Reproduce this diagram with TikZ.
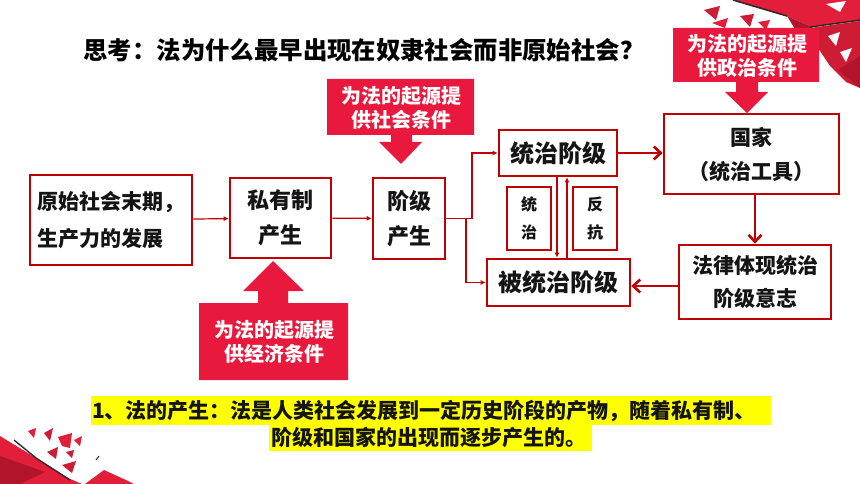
\documentclass[tikz,border=0pt]{standalone}
\usepackage{fontspec}
\setmainfont{Noto Sans CJK SC}
\usetikzlibrary{arrows.meta}
\definecolor{boxred}{RGB}{192,0,0}
\definecolor{callred}{RGB}{232,25,61}
\definecolor{txt}{RGB}{20,20,20}
\definecolor{deco1}{RGB}{226,30,58}
\definecolor{deco2}{RGB}{178,20,44}
\definecolor{deco3}{RGB}{206,28,52}
\definecolor{decodark}{RGB}{50,40,42}
\definecolor{hl}{RGB}{255,255,0}
\begin{document}
\begin{tikzpicture}[x=1pt,y=-1pt,
  box/.style={draw=boxred, line width=2.6pt, fill=white, inner sep=0pt, align=center, text=txt, font=\bfseries\fontsize{22}{35}\selectfont},
  conn/.style={draw=boxred, line width=1.2pt, -{Latex[length=5pt,width=5pt]}},
  bigconn/.style={draw=boxred, line width=2.6pt, -{Straight Barb[length=7pt,width=13pt]}},
  calltext/.style={text=white, align=center, inner sep=0pt, font=\bfseries\fontsize{20}{24.5}\selectfont},
  plaintext/.style={inner sep=0pt, text=txt, font=\bfseries\fontsize{21}{26}\selectfont}
]
\useasboundingbox (0,0) rectangle (860,484);
\fill[white] (0,0) rectangle (860,484);

% title
\node[plaintext, font=\bfseries\fontsize{24.4}{28}\selectfont, text=black] (title) at (364,50) {思考：法为什么最早出现在奴隶社会而非原始社会？};

% highlighted summary
\fill[hl] (91,396) rectangle (771,425);
\fill[hl] (269,425) rectangle (592,451);
\node[plaintext, anchor=west] (sum1) at (92,410.5) {1、法的产生：法是人类社会发展到一定历史阶段的产物，随着私有制、};
\node[plaintext, anchor=west] (sum2) at (271,438) {阶级和国家的出现而逐步产生的。};

% decoration top right
\fill[deco1] (735,0) -- (860,0) -- (860,21) -- (812,27) -- (787,16) -- cycle;
\fill[deco2] (787,16) -- (812,27) -- (820,40) -- (798,34) -- cycle;
\fill[deco3] (810,28) -- (860,21) -- (860,88) -- (846,82) -- (830,66) -- (818,48) -- cycle;
\fill[deco2] (838,70) -- (860,88) -- (860,56) -- cycle;
\fill[white] (826,4) -- (846,1) -- (840,12) -- cycle;
\fill[deco3] (704,10) -- (720,6) -- (716,20) -- cycle;
\fill[deco1] (712,23) -- (728,18) -- (725,28) -- cycle;
\fill[deco3] (740,16) -- (754,14) -- (750,27) -- cycle;
\fill[deco1] (758,22) -- (770,20) -- (766,30) -- cycle;
\fill[white] (828,36) -- (840,32) -- (836,46) -- cycle;
\fill[white] (840,52) -- (852,48) -- (846,62) -- cycle;
\draw[decodark, line width=1.6pt] (733,0) -- (787,16);
\draw[decodark, line width=1.4pt] (810,27) -- (860,20);

% decoration bottom left
\fill[deco1] (0,436) -- (36,458) -- (68,478) -- (82,484) -- (0,484) -- cycle;
\fill[deco2] (0,456) -- (45,472) -- (20,484) -- (0,484) -- cycle;
\fill[deco1] (85,484) -- (104,470) -- (126,480) -- (134,484) -- cycle;
\fill[deco3] (44,433) -- (53,428) -- (50,441) -- cycle;
\fill[deco1] (58,437) -- (72,433) -- (70,448) -- (62,446) -- cycle;
\fill[deco3] (47,452) -- (58,447) -- (56,459) -- cycle;
\fill[deco1] (74,440) -- (82,436) -- (80,446) -- cycle;
\fill[deco3] (62,465) -- (76,461) -- (72,473) -- cycle;
\fill[deco1] (28,431) -- (36,428) -- (34,438) -- cycle;
\fill[deco3] (66,452) -- (74,450) -- (72,458) -- cycle;
\draw[decodark, line width=1.4pt] (14,440) -- (36,458) -- (70,480);
\draw[decodark, line width=1pt] (96,460) -- (99,456);

% callouts
\fill[callred] (327,79) -- (474,79) -- (474,135) -- (412,135) -- (412,142) -- (422,142) -- (401,164) -- (379,142) -- (391,142) -- (391,135) -- (327,135) -- cycle;
\node[calltext] (csoc) at (401,108) {为法的起源提\\供社会条件};
\fill[callred] (673,28) -- (819,28) -- (819,82) -- (758,82) -- (758,92) -- (768,92) -- (747,113) -- (725,92) -- (736,92) -- (736,82) -- (673,82) -- cycle;
\node[calltext] (cpol) at (747,56) {为法的起源提\\供政治条件};
\fill[callred] (199,303) -- (258,303) -- (258,291) -- (243,291) -- (273,261) -- (304,291) -- (288,291) -- (288,303) -- (348,303) -- (348,380) -- (199,380) -- cycle;
\node[calltext] (ceco) at (274,342) {为法的起源提\\供经济条件};

% boxes
\node[box, minimum width=162pt, minimum height=90pt, align=left, font=\bfseries\fontsize{21}{37}\selectfont] (b1) at (111,220) {原始社会末期，\\生产力的发展};
\node[box, minimum width=101pt, minimum height=80pt] (b2) at (280.5,218) {私有制\\产生};
\node[box, minimum width=72pt, minimum height=81pt] (b3) at (409,218.5) {阶级\\产生};
\node[box, minimum width=118pt, minimum height=46pt, font=\bfseries\fontsize{24}{28}\selectfont] (ruling) at (558,153) {统治阶级};
\node[box, minimum width=143pt, minimum height=47pt, font=\bfseries\fontsize{24}{28}\selectfont] (ruled) at (558.5,282.5) {被统治阶级};
\node[box, minimum width=44pt, minimum height=63pt, font=\bfseries\fontsize{16}{28}\selectfont] (rule) at (529,218.5) {统\\治};
\node[box, minimum width=44pt, minimum height=63pt, font=\bfseries\fontsize{16}{28}\selectfont] (resist) at (595,218.5) {反\\抗};
\node[box, minimum width=175pt, minimum height=80pt, font=\bfseries\fontsize{21}{34}\selectfont] (state) at (751.5,154) {国家\\（统治工具）};
\node[box, minimum width=152pt, minimum height=74pt, font=\bfseries\fontsize{21}{33}\selectfont] (law) at (755,282) {法律体现统治\\阶级意志};

% connectors
\coordinate (j1) at (472,218.5);
\coordinate (j2) at (466,218.5);
\draw[conn] (b1) -- (b2);
\draw[conn] (b2) -- (b3);
\draw[conn] (b3.east) -- (j1) |- (ruling.west);
\draw[conn] (j2) |- (ruled.west);
\draw[conn] ([xshift=-1pt]ruling.south) -- ([xshift=-1pt]ruling.south |- ruled.north);
\draw[conn] ([xshift=9pt]ruling.south |- ruled.north) -- ([xshift=9pt]ruling.south);
\draw[bigconn] (ruling.east) -- (ruling.east -| state.west);
\draw[bigconn] (law.north |- state.south) -- (law.north);
\draw[bigconn] ([yshift=-4pt]law.west) -- ([yshift=-4pt]law.west -| ruled.east);
\end{tikzpicture}
\end{document}
